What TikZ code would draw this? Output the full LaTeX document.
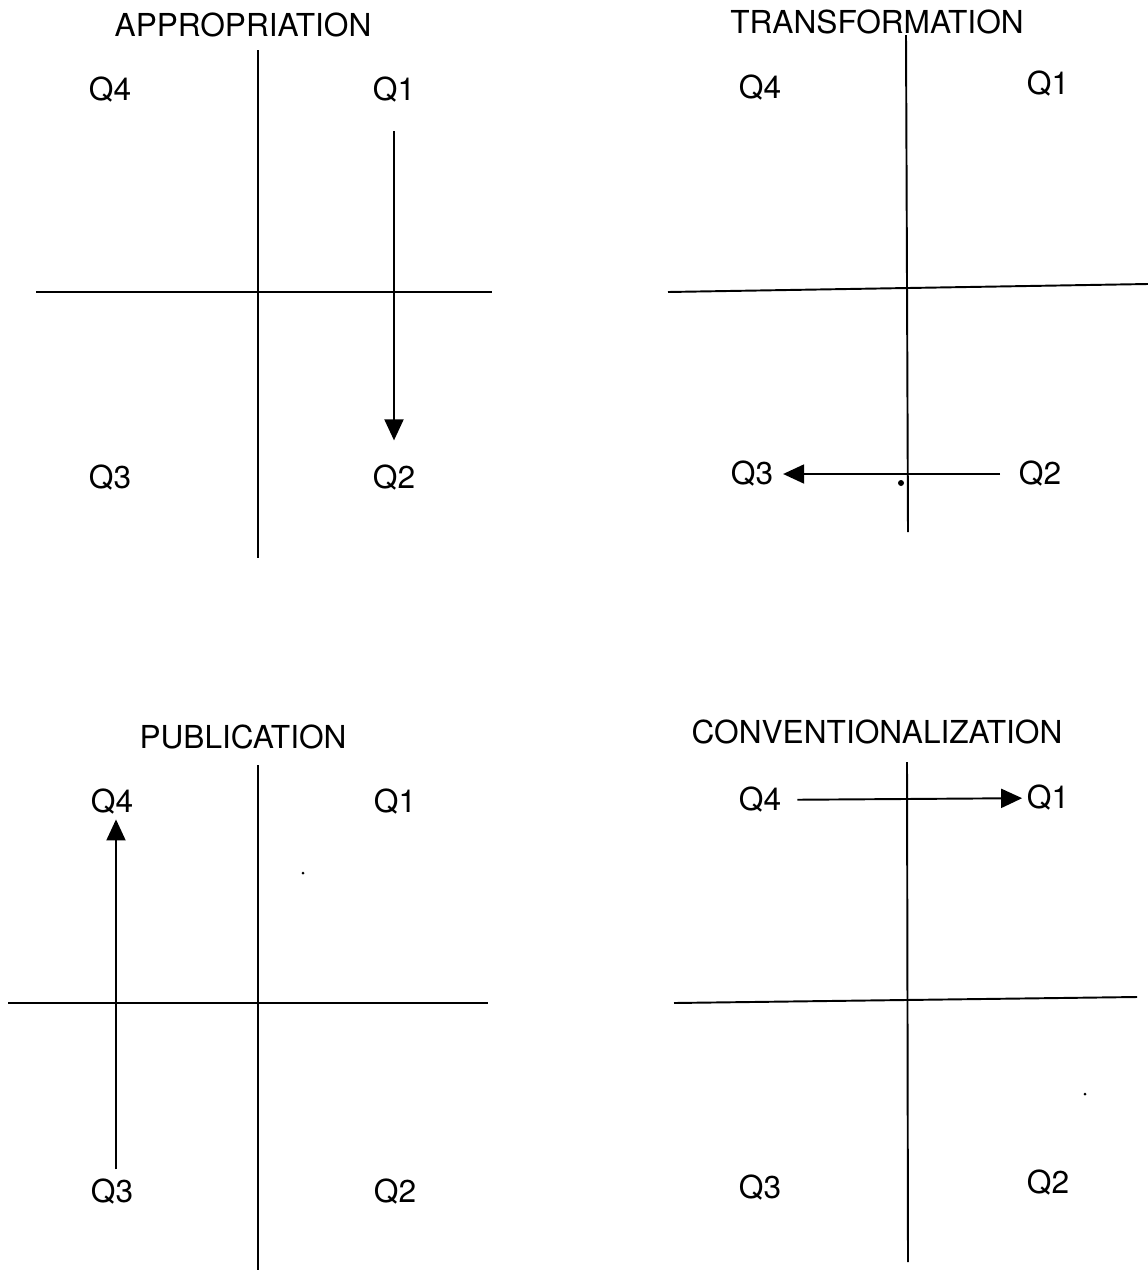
\documentclass[tikz,border=0pt]{standalone}
\usepackage{fontspec}
\setmainfont{TeX Gyre Heros}
\usetikzlibrary{arrows.meta, positioning}
\tikzset{
    quad/.style={
        font=\fontsize{18}{21}\selectfont, inner sep=1pt
    },
    caption/.style={
        font=\fontsize{18}{21}\selectfont, inner sep=1pt
    },
    axis/.style={line width=1.1pt, draw=black},
    arrow/.style={-{Triangle[length=4.2mm, width=3.8mm]}, line width=1.1pt, draw=black},
    speck/.style={circle, fill=black, inner sep=0pt, minimum size=1.2mm}
}
\begin{document}
\begin{tikzpicture}[x=0.2mm, y=-0.2mm]
    \useasboundingbox (0,0) rectangle (1148,1270);

    % appropriation
    \node[caption] (ta) at (243,25) {APPROPRIATION};
    \draw[axis] (258,50) -- (258,558);
    \draw[axis] (36,292) -- (492,292);
    \node[quad] (a4) at (110,90) {Q4};
    \node[quad] (a1) at (394,90) {Q1};
    \node[quad] (a3) at (110,478) {Q3};
    \node[quad] (a2) at (394,478) {Q2};
    \draw[arrow, shorten <=15pt, shorten >=13pt] (a1) -- (a2);

    % transformation
    \node[caption] (tt) at (877,22) {TRANSFORMATION};
    \draw[axis] (906,35) -- (908,532);
    \draw[axis] (668,292) -- (1148,284);
    \node[quad] (t4) at (760,88) {Q4};
    \node[quad] (t1) at (1048,84) {Q1};
    \node[quad] (t3) at (752,474) {Q3};
    \node[quad] (t2) at (1040,474) {Q2};
    \draw[arrow, shorten <=9.5pt, shorten >=4.5pt] (t2) -- (t3);
    \node[speck] (s1) at (901,483) {};

    % publication
    \node[caption] (tp) at (243,737) {PUBLICATION};
    \draw[axis] (258,765) -- (258,1270);
    \draw[axis] (8,1003) -- (488,1003);
    \node[quad] (p4) at (112,802) {Q4};
    \node[quad] (p1) at (395,802) {Q1};
    \node[quad] (p3) at (112,1192) {Q3};
    \node[quad] (p2) at (395,1192) {Q2};
    \draw[arrow, shorten <=4.5pt, shorten >=1.5pt] (p3.north -| 116,0) -- (p4.south -| 116,0);
    \node[speck, minimum size=0.6mm] (s2) at (303,873) {};

    % conventionalization
    \node[caption] (tc) at (877,732) {CONVENTIONALIZATION};
    \draw[axis] (907,762) -- (908,1262);
    \draw[axis] (674,1003) -- (1137,997);
    \node[quad] (c4) at (760,800) {Q4};
    \node[quad] (c1) at (1048,798) {Q1};
    \node[quad] (c3) at (760,1188) {Q3};
    \node[quad] (c2) at (1048,1183) {Q2};
    \draw[arrow, shorten <=8pt, shorten >=1.5pt] (c4) -- (c1);
    \node[speck, minimum size=0.6mm] (s3) at (1085,1094) {};
\end{tikzpicture}
\end{document}
